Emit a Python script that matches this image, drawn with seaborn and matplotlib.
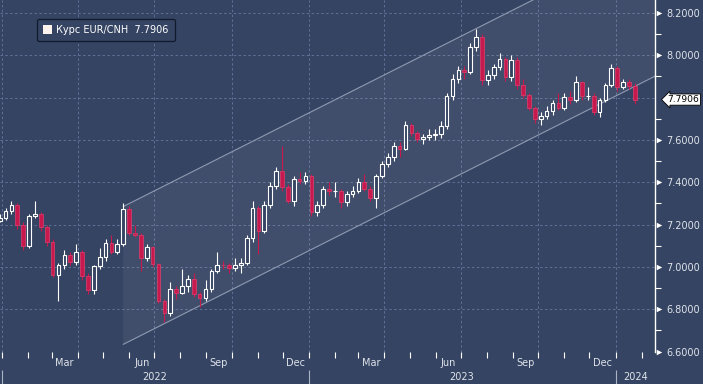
import matplotlib
matplotlib.use("Agg")
import matplotlib.pyplot as plt
import matplotlib.dates as mdates
from matplotlib.patches import Patch
from matplotlib.ticker import FixedLocator, MultipleLocator
import numpy as np
import pandas as pd
import seaborn as sns

# weekly candles (Friday closes)
week_end = pd.date_range("2021-12-31", periods=109, freq="7D")
first_open = 7.215
close = [
    7.233, 7.266, 7.294, 7.198, 7.101, 7.240, 7.249, 7.188, 7.120, 6.961,
    7.007, 7.056, 7.025, 7.072, 6.957, 6.889, 7.002, 7.047, 7.114, 7.072,
    7.110, 7.275, 7.162, 7.153, 7.044, 7.094, 7.016, 6.841, 6.780, 6.896,
    6.879, 6.912, 6.945, 6.871, 6.851, 6.898, 6.983, 7.009, 7.008, 6.997,
    7.011, 7.017, 7.136, 7.280, 7.172, 7.291, 7.383, 7.452, 7.379, 7.313,
    7.417, 7.408, 7.431, 7.261, 7.294, 7.367, 7.357, 7.358, 7.306, 7.344,
    7.360, 7.403, 7.370, 7.327, 7.430, 7.484, 7.518, 7.573, 7.557, 7.670,
    7.634, 7.606, 7.615, 7.623, 7.628, 7.667, 7.806, 7.889, 7.931, 7.922,
    8.040, 8.087, 7.882, 7.907, 7.944, 7.981, 7.898, 7.978, 7.858, 7.812,
    7.752, 7.697, 7.714, 7.738, 7.775, 7.752, 7.804, 7.790, 7.874, 7.806,
    7.808, 7.733, 7.790, 7.860, 7.938, 7.849, 7.873, 7.853, 7.7906,
]
high = [
    7.25, 7.28, 7.31, 7.30, 7.21, 7.25, 7.31, 7.26, 7.20, 7.13,
    7.02, 7.08, 7.07, 7.11, 7.08, 6.97, 7.01, 7.09, 7.13, 7.15,
    7.13, 7.30, 7.29, 7.20, 7.16, 7.11, 7.10, 7.02, 6.85, 6.93,
    6.91, 6.99, 6.96, 6.97, 6.88, 6.94, 6.99, 7.07, 7.03, 7.02,
    7.04, 7.04, 7.15, 7.31, 7.29, 7.31, 7.40, 7.47, 7.57, 7.39,
    7.43, 7.45, 7.45, 7.44, 7.31, 7.38, 7.40, 7.40, 7.37, 7.36,
    7.38, 7.42, 7.44, 7.38, 7.44, 7.50, 7.54, 7.59, 7.59, 7.69,
    7.68, 7.64, 7.63, 7.65, 7.65, 7.69, 7.82, 7.91, 7.95, 7.95,
    8.06, 8.125, 8.10, 7.93, 7.96, 8.01, 7.99, 8.00, 7.99, 7.89,
    7.82, 7.76, 7.73, 7.76, 7.79, 7.82, 7.82, 7.83, 7.90, 7.88,
    7.85, 7.82, 7.80, 7.87, 7.96, 7.95, 7.89, 7.89, 7.87,
]
low = [
    7.21, 7.22, 7.25, 7.18, 7.08, 7.09, 7.23, 7.17, 7.10, 6.95,
    6.84, 6.99, 7.01, 7.01, 6.94, 6.87, 6.87, 6.99, 7.03, 7.06,
    7.06, 7.10, 7.15, 7.14, 6.98, 7.03, 7.00, 6.83, 6.74, 6.77,
    6.85, 6.87, 6.88, 6.86, 6.81, 6.84, 6.88, 6.97, 6.99, 6.97,
    6.98, 6.97, 7.01, 7.12, 7.06, 7.16, 7.28, 7.37, 7.36, 7.30,
    7.29, 7.39, 7.39, 7.24, 7.24, 7.28, 7.34, 7.33, 7.28, 7.29,
    7.33, 7.35, 7.36, 7.31, 7.28, 7.42, 7.47, 7.50, 7.52, 7.55,
    7.62, 7.59, 7.58, 7.60, 7.60, 7.61, 7.65, 7.79, 7.87, 7.89,
    7.91, 8.02, 7.86, 7.86, 7.89, 7.93, 7.88, 7.88, 7.84, 7.80,
    7.74, 7.68, 7.67, 7.70, 7.72, 7.74, 7.74, 7.77, 7.78, 7.79,
    7.79, 7.72, 7.71, 7.78, 7.85, 7.83, 7.84, 7.84, 7.77,
]

# trend channel drawn on the chart
channel_dates = pd.to_datetime(["2022-05-25", "2024-02-17"])
channel_upper = [7.285, 8.552]
channel_lower = [6.634, 7.901]

last_price = 7.7906
legend_label = "Курс EUR/CNH  7.7906"
y_ticks = [6.6, 6.8, 7.0, 7.2, 7.4, 7.6, 7.8, 8.0, 8.2]
month_label_dates = pd.to_datetime([
    "2022-03-16", "2022-06-16", "2022-09-16", "2022-12-16",
    "2023-03-16", "2023-06-16", "2023-09-16", "2023-12-16",
])
month_labels = ["Mar", "Jun", "Sep", "Dec", "Mar", "Jun", "Sep", "Dec"]
years = ["2022", "2023", "2024"]
year_starts = pd.to_datetime(["2022-01-01", "2023-01-01", "2024-01-01"])

BG = "#354462"
GRID = "#617096"
UP = "white"
DOWN = "#c8194f"
TEXT = "#dfe3ea"

sns.set_style("dark", rc={"axes.facecolor": BG, "figure.facecolor": BG})
plt.rcParams["font.family"] = ["DejaVu Sans"]

x_start = pd.Timestamp("2021-12-29 09:00")
x_end = pd.Timestamp("2024-02-17")

fig = plt.figure(figsize=(7.03, 3.84), dpi=100)
ax = fig.add_axes([0, 32 / 384, 655 / 703, 352 / 384])
ax.set_facecolor(BG)

# channel
ax.fill_between(channel_dates, channel_lower, channel_upper, color="white", alpha=0.06, lw=0, zorder=1)
sns.lineplot(x=channel_dates, y=channel_upper, ax=ax, color="#8f9ab2", lw=0.8, zorder=2)
sns.lineplot(x=channel_dates, y=channel_lower, ax=ax, color="#8f9ab2", lw=0.8, zorder=2)

# grid
for q in pd.date_range("2022-01-01", "2024-01-01", freq="QS"):
    ax.axvline(q, color=GRID, lw=0.7, ls=(0, (2.5, 2.5)), zorder=0.5)
for t in y_ticks:
    ax.axhline(t, color=GRID, lw=0.7, ls=(0, (2.5, 2.5)), zorder=0.5)

# candles
opens = np.array([first_open] + close[:-1])
closes = np.array(close)
centers = week_end - pd.Timedelta(days=2)
xs = mdates.date2num(centers)
up = closes >= opens
body_w = 4.4

ax.vlines(xs[up], np.array(low)[up], np.array(high)[up], color=UP, lw=0.8, zorder=3)
ax.vlines(xs[~up], np.array(low)[~up], np.array(high)[~up], color=DOWN, lw=0.8, zorder=3)
ax.bar(xs[up], (closes - opens)[up], bottom=opens[up], width=body_w,
       facecolor=BG, edgecolor=UP, linewidth=0.8, zorder=4)
ax.bar(xs[~up], (closes - opens)[~up], bottom=opens[~up], width=body_w,
       facecolor=DOWN, edgecolor="#e0406e", linewidth=0.5, zorder=4)

ax.set_xlim(x_start, x_end)
ax.set_ylim(6.598, 8.261)
ax.set_xlabel("")
ax.set_ylabel("")

# right axis
for s in ["top", "left", "bottom"]:
    ax.spines[s].set_visible(False)
ax.spines["right"].set_visible(True)
ax.spines["right"].set_color("white")
ax.spines["right"].set_linewidth(1.0)
ax.yaxis.tick_right()
ax.yaxis.set_major_locator(FixedLocator(y_ticks))
ax.set_yticklabels(["" if abs(t - 7.8) < 1e-9 else f"{t:.4f}" for t in y_ticks])
ax.yaxis.set_minor_locator(MultipleLocator(0.1))
ax.tick_params(axis="y", which="major", length=0, pad=8, labelsize=7, labelcolor=TEXT)
ax.tick_params(axis="y", which="minor", right=True, length=4, width=0.8, color="white", direction="out")
marker_ticks = [t for t in y_ticks if abs(t - 7.8) > 1e-9]
ax.scatter([1.006] * len(marker_ticks), marker_ticks, marker=">", s=16, color="white",
           transform=ax.get_yaxis_transform(), clip_on=False, zorder=6, linewidths=0)

# bottom axis
ax.xaxis.set_major_locator(FixedLocator(mdates.date2num(month_label_dates)))
ax.set_xticklabels(month_labels)
ax.xaxis.set_minor_locator(mdates.MonthLocator())
ax.tick_params(axis="x", which="major", length=0, pad=4, labelsize=7, labelcolor=TEXT)
ax.tick_params(axis="x", which="minor", bottom=True, length=4, width=0.8, color="white", direction="out")

xt = ax.get_xaxis_transform()
ax.vlines(year_starts, -0.05, -0.095, color="#aab3c5", lw=0.8, transform=xt, clip_on=False)
year_mid = [pd.Timestamp("2022-07-02"), pd.Timestamp("2023-07-02"),
            year_starts[2] + (x_end - year_starts[2]) / 2]
for y, m in zip(years, year_mid):
    ax.text(m, -0.072, y, transform=xt, ha="center", va="center", fontsize=7, color=TEXT)

# legend box
leg = ax.legend(handles=[Patch(facecolor="#fff3ee", edgecolor="none", label=legend_label)],
                loc="upper left", bbox_to_anchor=(37 / 655, 1 - 19 / 352), borderaxespad=0,
                fontsize=7, handlelength=0.9, handleheight=0.9, handletextpad=0.5,
                borderpad=0.6, fancybox=True, framealpha=1, labelcolor="white")
leg.get_frame().set_facecolor(BG)
leg.get_frame().set_edgecolor("#111a2c")
leg.get_frame().set_linewidth(0.9)

# last price tag
ax.text(1.019, last_price, f"{last_price:.4f}", transform=ax.get_yaxis_transform(),
        ha="left", va="center", fontsize=6.6, color="black", clip_on=False, zorder=7,
        bbox=dict(boxstyle="larrow,pad=0.12", fc="white", ec="black", lw=0.6))

fig.savefig("out.png", dpi=100, facecolor=BG)
